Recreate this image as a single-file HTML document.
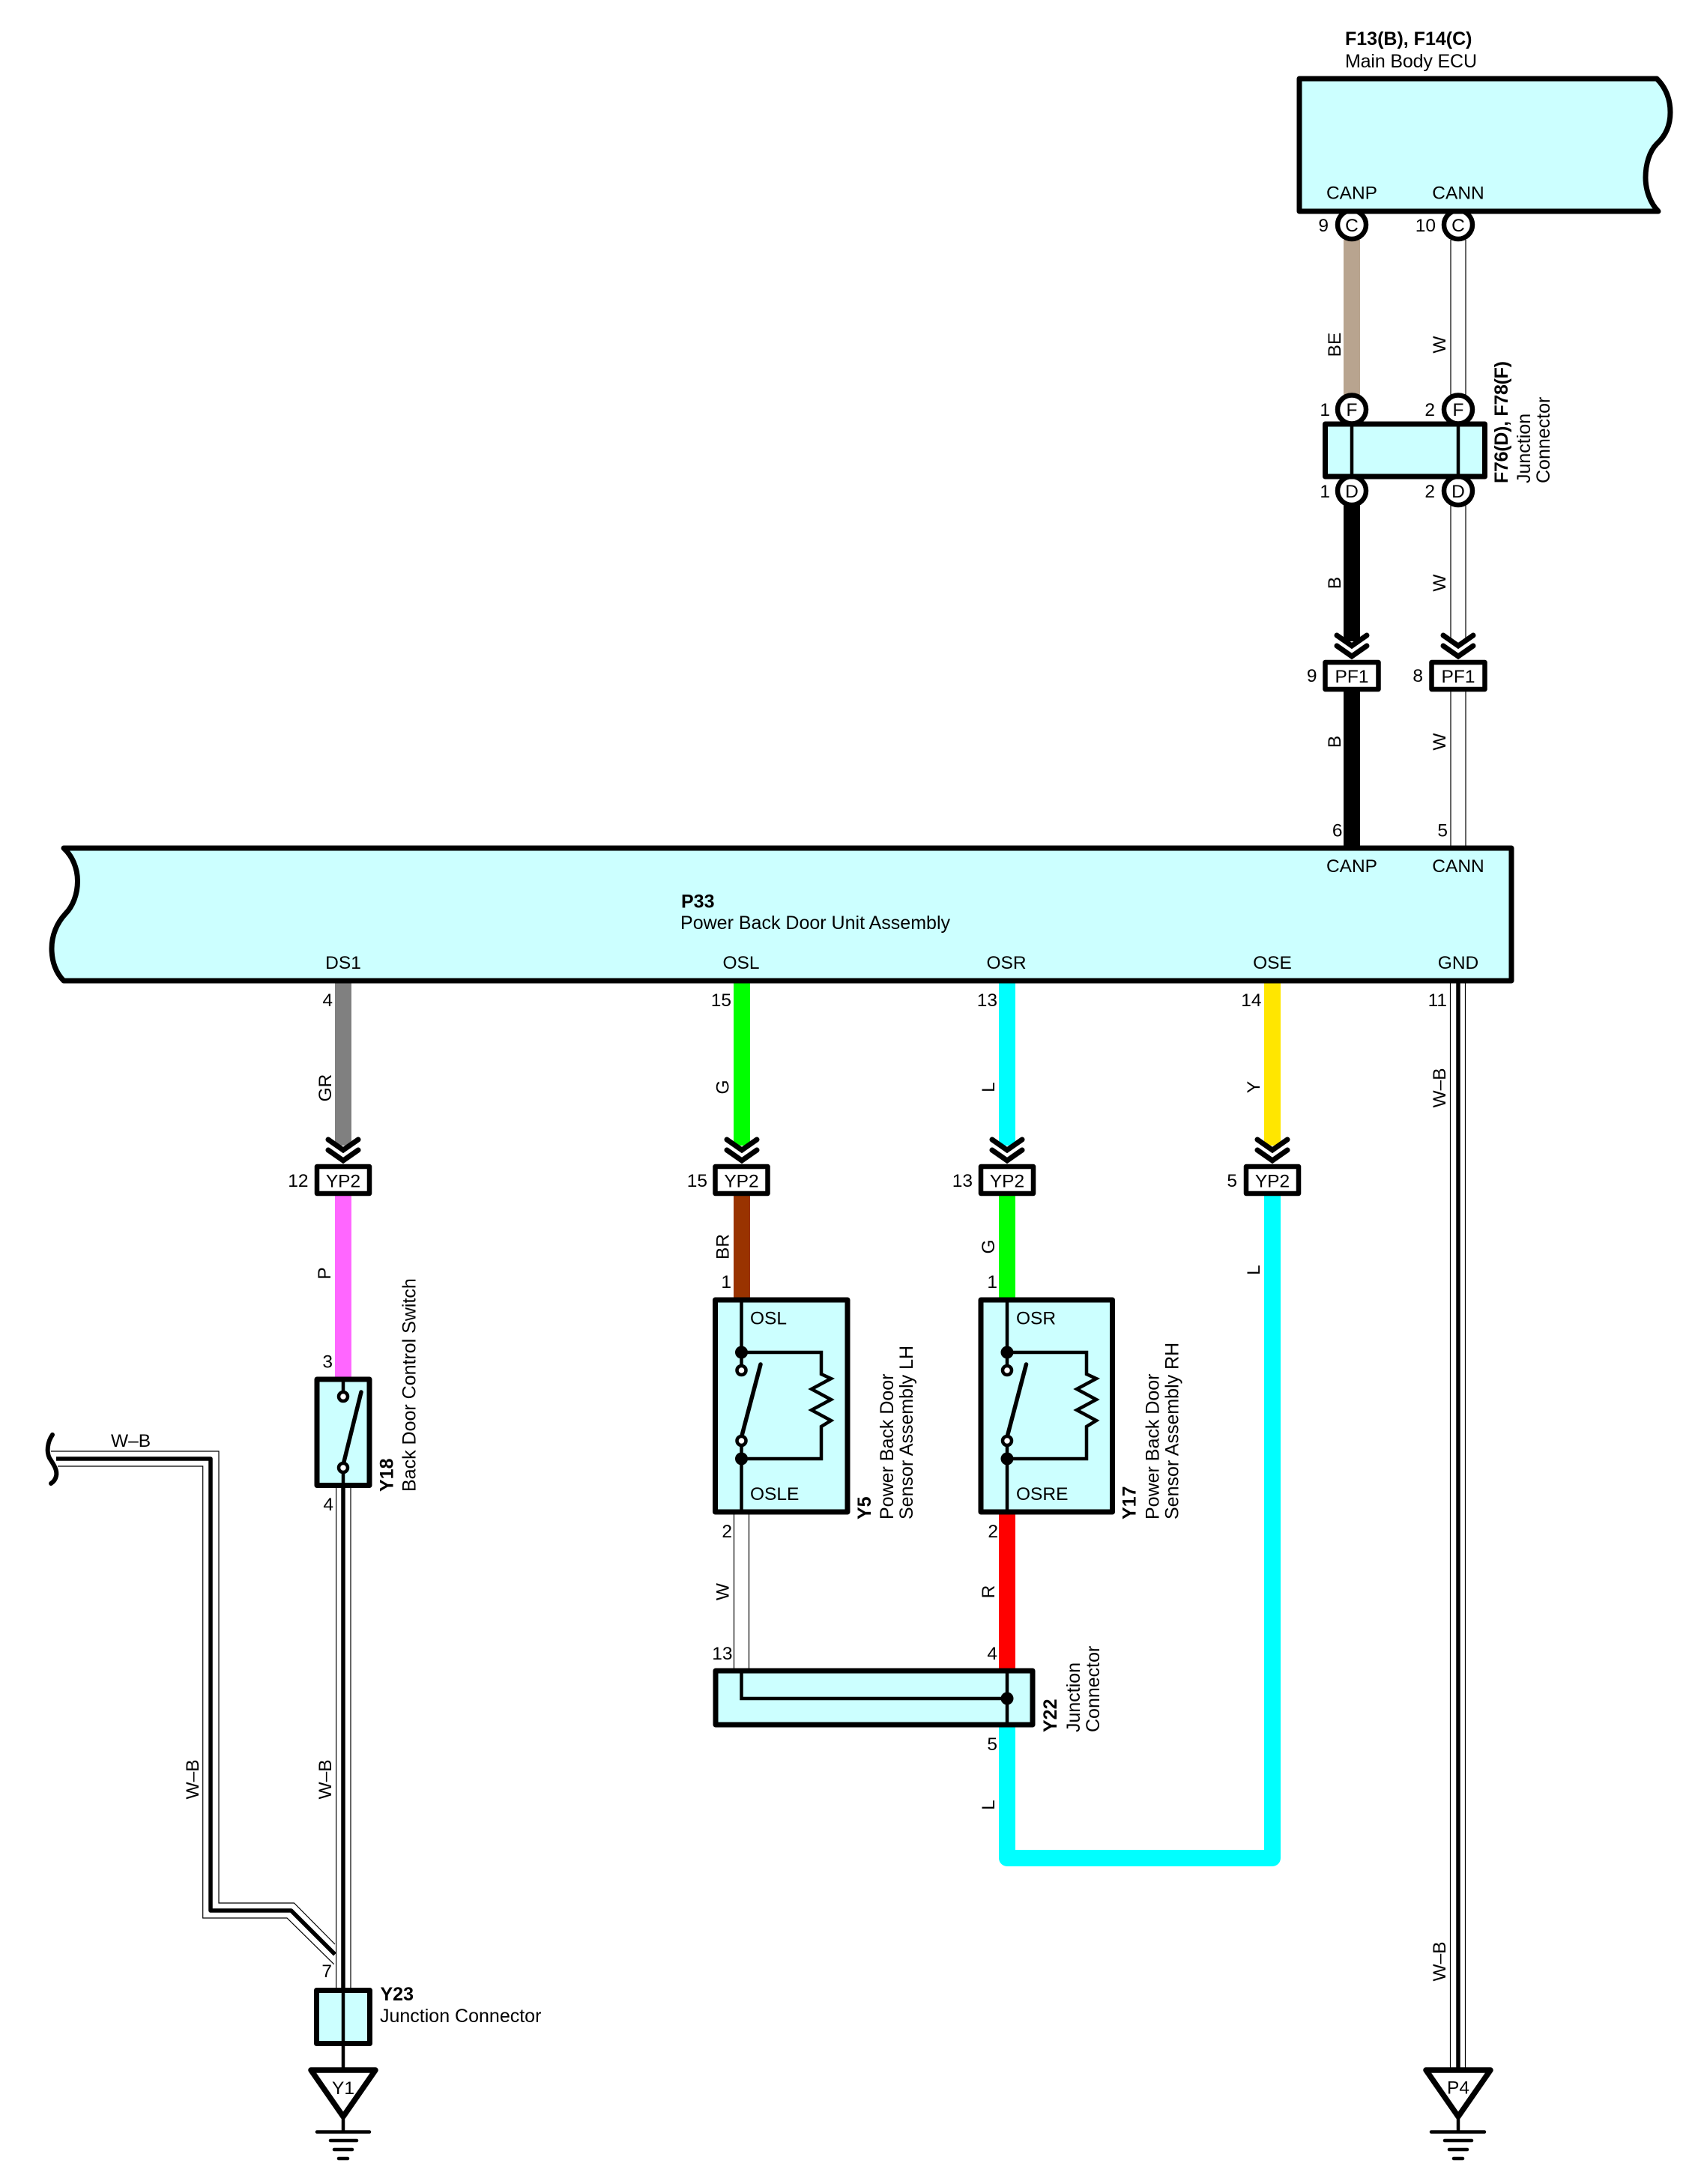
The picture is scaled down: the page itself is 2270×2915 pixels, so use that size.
<!DOCTYPE html>
<html><head><meta charset="utf-8"><style>
html,body{margin:0;padding:0;background:#fff;width:2270px;height:2915px;overflow:hidden}
svg{display:block}
text{font-family:"Liberation Sans",sans-serif;font-size:24.5px;fill:#000}
.b{font-weight:bold}
.r{text-anchor:end}
.m{text-anchor:middle}
.n{font-size:25px}
.box{fill:#CCFFFF;stroke:#000;stroke-width:7;stroke-linejoin:round}
.pl{fill:#fff;stroke:#000;stroke-width:6.500;stroke-linejoin:round}
.w{fill:none;stroke-width:22}
.t{fill:none;stroke:#000;stroke-width:1.2}
.k{fill:none;stroke:#000;stroke-width:5.5}
.i{fill:none;stroke:#000;stroke-width:4.500}
.ch{fill:none;stroke:#000;stroke-width:7;stroke-linecap:round;stroke-linejoin:miter}
.c{fill:#fff;stroke:#000;stroke-width:6.500}
.o{fill:#fff;stroke:#000;stroke-width:4.500}
.g{fill:none;stroke:#000;stroke-width:4.5;stroke-linecap:round}
.tri{fill:#fff;stroke:#000;stroke-width:7.500;stroke-linejoin:round}
</style></head><body>
<svg xmlns="http://www.w3.org/2000/svg" width="2270" height="2915" viewBox="0 0 2270 2915">
<rect width="2270" height="2915" fill="#fff"/>

<!-- Wires -->
<path class="w" stroke="#B8A48F" d="M1804 320V530"/>
<path class="t" d="M1936 320V530M1956 320V530"/>
<path class="w" stroke="#000" d="M1804 670V856"/>
<path class="t" d="M1936 670V852M1956 670V852"/>
<path class="w" stroke="#000" d="M1804 920V1132"/>
<path class="t" d="M1936 920V1132M1956 920V1132"/>

<path class="w" stroke="#808080" d="M458 1310V1529"/>
<path class="w" stroke="#FF66FF" d="M458 1593V1840"/>
<path class="w" stroke="#00FF00" d="M990 1310V1529"/>
<path class="w" stroke="#993300" d="M990 1593V1736" stroke-linecap="round"/>
<path class="w" stroke="#00FFFF" d="M1344 1310V1529"/>
<path class="w" stroke="#00FF00" d="M1344 1593V1736"/>
<path class="w" stroke="#FFE600" d="M1698 1310V1529"/>
<path class="w" stroke="#FF0000" d="M1344 2018V2232"/>
<path class="w" stroke="#00FFFF" stroke-linejoin="round" d="M1344 2300V2480H1698V1590"/>
<path class="t" d="M979.5 2018V2232M999.5 2018V2232"/>

<!-- GND wire -->
<path class="t" d="M1935.5 1310V2762M1955.5 1310V2762"/>
<path class="k" stroke-width="6" d="M1946 1310V2762"/>

<!-- W-B wires left -->
<path class="t" d="M448.6 1982V2656M468 1982V2656"/>
<path class="k" d="M458 1982V2656"/>
<path class="t" d="M68 1937H292V2540H392.5L447 2595"/>
<path class="t" d="M77 1957H270.7V2560H383L445.7 2621.7"/>
<path fill="none" stroke="#000" stroke-width="5.5" stroke-linejoin="round" d="M75 1947H281V2550H388.5L447 2608.5"/>
<path fill="none" stroke="#000" stroke-width="6" stroke-linecap="round" d="M70 1915C63 1925 62 1938 66 1946C71 1954 77 1962 75 1970C74 1975 71 1978 68 1980"/>

<!-- Main Body ECU -->
<circle class="c" cx="1804" cy="300" r="19"/>
<circle class="c" cx="1946" cy="300" r="19"/>
<path class="box" d="M1734 105H2211C2223 117 2229 132 2229 150C2229 168 2222 182 2211 192C2201 202 2196 220 2196 237C2196 255 2203 272 2213 282H1734Z"/>
<text class="b n" x="1795" y="60">F13(B), F14(C)</text>
<text class="n" x="1795" y="90" textLength="176">Main Body ECU</text>
<text class="m" x="1804" y="265.5">CANP</text>
<text class="m" x="1946" y="265.5">CANN</text>
<text class="r" x="1773" y="309">9</text>
<text class="r" x="1916" y="309">10</text>
<text class="m" x="1804" y="309">C</text>
<text class="m" x="1946" y="309">C</text>
<text transform="translate(1789,460) rotate(-90)" class="m">BE</text>
<text transform="translate(1929,460) rotate(-90)" class="m">W</text>

<!-- F76 -->
<circle class="c" cx="1804" cy="546.5" r="19"/>
<circle class="c" cx="1946" cy="546.5" r="19"/>
<circle class="c" cx="1804" cy="655" r="19"/>
<circle class="c" cx="1946" cy="655" r="19"/>
<rect class="box" x="1768.5" y="566" width="213" height="70"/>
<path class="i" d="M1804 566V636M1946 566V636"/>
<text class="m" x="1804" y="555">F</text>
<text class="m" x="1946" y="555">F</text>
<text class="m" x="1804" y="664">D</text>
<text class="m" x="1946" y="664">D</text>
<text class="r" x="1775" y="555">1</text>
<text class="r" x="1915" y="555">2</text>
<text class="r" x="1775" y="664">1</text>
<text class="r" x="1915" y="664">2</text>
<text transform="translate(2012,645) rotate(-90)" class="b n" textLength="163">F76(D), F78(F)</text>
<text transform="translate(2042,645) rotate(-90)" class="n">Junction</text>
<text transform="translate(2068,645) rotate(-90)" class="n">Connector</text>

<!-- W/B labels -->
<text transform="translate(1789,778) rotate(-90)" class="m">B</text>
<text transform="translate(1929,778) rotate(-90)" class="m">W</text>
<text transform="translate(1789,990) rotate(-90)" class="m">B</text>
<text transform="translate(1929,990) rotate(-90)" class="m">W</text>

<!-- PF1 -->
<path class="ch" d="M1784 848L1804 862L1824 848M1784 862L1804 876L1824 862"/>
<path class="ch" d="M1926 848L1946 862L1966 848M1926 862L1946 876L1966 862"/>
<rect class="pl" x="1768.5" y="884" width="71" height="36"/>
<rect class="pl" x="1910.5" y="884" width="71" height="36"/>
<text class="m" x="1804" y="911">PF1</text>
<text class="m" x="1946" y="911">PF1</text>
<text class="r" x="1757.5" y="910">9</text>
<text class="r" x="1899" y="910">8</text>
<text class="r" x="1791.5" y="1116.5">6</text>
<text class="r" x="1932" y="1116.5">5</text>

<!-- P33 -->
<path class="box" d="M85 1132H2017V1309H85C75 1299 69 1284 69 1266C69 1248 76 1232 87 1220C97 1210 103.500 1194 103.500 1176C103.500 1158 96 1142 85 1132Z"/>
<text class="m" x="1804" y="1164">CANP</text>
<text class="m" x="1946" y="1164">CANN</text>
<text class="b n" x="909" y="1211.500">P33</text>
<text class="n" x="908" y="1240" textLength="360">Power Back Door Unit Assembly</text>
<text class="m" x="458" y="1293">DS1</text>
<text class="m" x="989" y="1293">OSL</text>
<text class="m" x="1343" y="1293">OSR</text>
<text class="m" x="1698" y="1293">OSE</text>
<text class="m" x="1946" y="1293">GND</text>

<text class="r" x="444" y="1343">4</text>
<text class="r" x="976" y="1343">15</text>
<text class="r" x="1331" y="1343">13</text>
<text class="r" x="1683.500" y="1343">14</text>
<text class="r" x="1931" y="1343">11</text>

<text transform="translate(442,1452) rotate(-90)" class="m">GR</text>
<text transform="translate(972.5,1451) rotate(-90)" class="m">G</text>
<text transform="translate(1327,1451) rotate(-90)" class="m">L</text>
<text transform="translate(1681,1451) rotate(-90)" class="m">Y</text>
<text transform="translate(1929,1452) rotate(-90)" class="m">W–B</text>

<!-- YP2 connectors -->
<path class="ch" d="M438 1521L458 1535L478 1521M438 1535L458 1549L478 1535"/>
<path class="ch" d="M970 1521L990 1535L1010 1521M970 1535L990 1549L1010 1535"/>
<path class="ch" d="M1324 1521L1344 1535L1364 1521M1324 1535L1344 1549L1364 1535"/>
<path class="ch" d="M1678 1521L1698 1535L1718 1521M1678 1535L1698 1549L1718 1535"/>
<rect class="pl" x="423" y="1557" width="70" height="36"/>
<rect class="pl" x="954.500" y="1557" width="70" height="36"/>
<rect class="pl" x="1309" y="1557" width="70" height="36"/>
<rect class="pl" x="1663" y="1557" width="70" height="36"/>
<text class="m" x="458" y="1584.5">YP2</text>
<text class="m" x="989.5" y="1584.5">YP2</text>
<text class="m" x="1344" y="1584.5">YP2</text>
<text class="m" x="1698" y="1584.5">YP2</text>
<text class="r" x="411.5" y="1584">12</text>
<text class="r" x="944" y="1584">15</text>
<text class="r" x="1298" y="1584">13</text>
<text class="r" x="1651" y="1584">5</text>

<text transform="translate(441,1699.5) rotate(-90)" class="m">P</text>
<text transform="translate(972.5,1664) rotate(-90)" class="m">BR</text>
<text transform="translate(1327,1664) rotate(-90)" class="m">G</text>
<text transform="translate(1681,1695) rotate(-90)" class="m">L</text>
<text class="r" x="444" y="1825.5">3</text>
<text class="r" x="976" y="1719">1</text>
<text class="r" x="1331" y="1719">1</text>

<!-- Y18 -->
<rect class="box" x="423" y="1841" width="70" height="141.5"/>
<path class="i" d="M458 1841V1858M458 1965V1982"/>
<path class="k" stroke-linecap="round" d="M458 1955L482 1858"/>
<circle class="o" cx="458" cy="1864" r="6"/>
<circle class="o" cx="458" cy="1959" r="6"/>
<text class="r" x="445" y="2016">4</text>
<text transform="translate(524.5,1991) rotate(-90)" class="b n">Y18</text>
<text transform="translate(554.5,1991) rotate(-90)" class="n">Back Door Control Switch</text>

<!-- Y5 -->
<rect class="box" x="954.500" y="1735" width="176.500" height="283"/>
<path class="i" d="M989.500 1735V1823M989.500 1930V2018"/>
<path class="i" d="M990 1805H1096V1834L1109 1840L1083 1854L1109 1868L1083 1882L1109 1896L1096 1904V1947H990"/>
<path class="k" stroke-linecap="round" d="M989.500 1918L1015 1821"/>
<circle cx="989.500" cy="1805" r="8.500"/>
<circle cx="989.500" cy="1947" r="8.500"/>
<circle class="o" cx="989.500" cy="1829" r="6"/>
<circle class="o" cx="989.500" cy="1923" r="6"/>
<text x="1001" y="1767.5">OSL</text>
<text x="1001" y="2002">OSLE</text>
<text class="r" x="977" y="2052">2</text>
<text transform="translate(1162,2028) rotate(-90)" class="b n">Y5</text>
<text transform="translate(1192,2028) rotate(-90)" class="n">Power Back Door</text>
<text transform="translate(1218,2028) rotate(-90)" class="n">Sensor Assembly LH</text>

<!-- Y17 -->
<rect class="box" x="1309" y="1735" width="175.500" height="283"/>
<path class="i" d="M1344 1735V1823M1344 1930V2018"/>
<path class="i" d="M1344 1805H1450V1834L1463 1840L1437 1854L1463 1868L1437 1882L1463 1896L1450 1904V1947H1344"/>
<path class="k" stroke-linecap="round" d="M1344 1918L1369.500 1821"/>
<circle cx="1344" cy="1805" r="8.500"/>
<circle cx="1344" cy="1947" r="8.500"/>
<circle class="o" cx="1344" cy="1829" r="6"/>
<circle class="o" cx="1344" cy="1923" r="6"/>
<text x="1356" y="1767.5">OSR</text>
<text x="1356" y="2002">OSRE</text>
<text class="r" x="1332" y="2052">2</text>
<text transform="translate(1515.5,2028) rotate(-90)" class="b n">Y17</text>
<text transform="translate(1546.5,2028) rotate(-90)" class="n">Power Back Door</text>
<text transform="translate(1572.5,2028) rotate(-90)" class="n">Sensor Assembly RH</text>

<text transform="translate(972.5,2124.5) rotate(-90)" class="m">W</text>
<text transform="translate(1327,2124.5) rotate(-90)" class="m">R</text>
<text class="r" x="977.5" y="2215">13</text>
<text class="r" x="1331" y="2215">4</text>

<!-- Y22 -->
<rect class="box" x="955" y="2230" width="423" height="72"/>
<path class="i" d="M989.500 2230V2267H1344M1344 2230V2302"/>
<ellipse cx="1344" cy="2267" rx="8.500" ry="8.500"/>
<text class="r" x="1331" y="2336">5</text>
<text transform="translate(1327,2409) rotate(-90)" class="m">L</text>
<text transform="translate(1410,2312) rotate(-90)" class="b n">Y22</text>
<text transform="translate(1441,2312) rotate(-90)" class="n">Junction</text>
<text transform="translate(1467,2312) rotate(-90)" class="n">Connector</text>

<!-- Left W-B labels -->
<text class="m" x="174.5" y="1931">W–B</text>
<text transform="translate(265,2375) rotate(-90)" class="m">W–B</text>
<text transform="translate(442,2375) rotate(-90)" class="m">W–B</text>
<text transform="translate(1929,2618) rotate(-90)" class="m">W–B</text>

<!-- Y23 -->
<text class="r" x="443" y="2639">7</text>
<rect class="box" x="422.500" y="2656.500" width="71" height="71"/>
<path class="i" d="M458 2656V2762"/>
<text class="b n" x="507.5" y="2670">Y23</text>
<text class="n" x="507" y="2699">Junction Connector</text>

<!-- Grounds -->
<path class="tri" d="M415 2763H501L458 2825Z"/>
<text class="m" x="458" y="2795">Y1</text>
<path class="i" d="M458 2824V2845"/>
<path class="g" d="M423 2845.5H493M441 2857H476M446 2869H470M452 2881H464"/>

<path class="tri" d="M1903 2763H1989L1946 2825Z"/>
<text class="m" x="1946" y="2794.500">P4</text>
<path class="i" d="M1946 2824V2845"/>
<path class="g" d="M1910 2845.5H1981M1928 2857H1964M1934 2869H1958M1940 2881H1952"/>
</svg>
</body></html>
